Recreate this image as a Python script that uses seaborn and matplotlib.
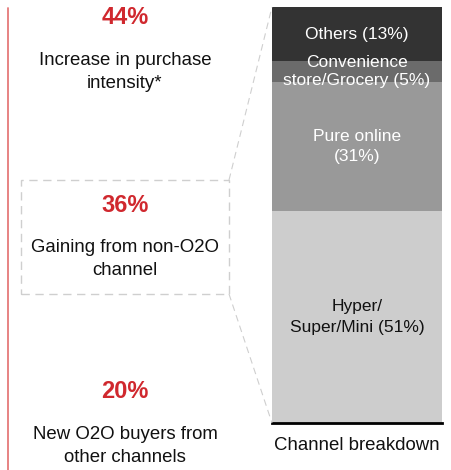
import matplotlib
matplotlib.use("Agg")
import matplotlib.pyplot as plt
import seaborn as sns
import pandas as pd
import numpy as np
from matplotlib.lines import Line2D
from matplotlib.patches import Rectangle

sns.set_theme(style="white")
plt.rcParams['font.family'] = ['Liberation Sans', 'DejaVu Sans']

# ---- data ----
channels = ["Hyper/\nSuper/Mini (51%)", "Pure online\n(31%)", "Convenience\nstore/Grocery (5%)", "Others (13%)"]
shares = [51, 31, 5, 13]
seg_colors = ["#cdcdcd", "#999999", "#6b6b6b", "#333333"]
label_colors = ["#111111", "white", "white", "white"]
bar_category = ["Channel breakdown"]

kpi_values = ["44%", "36%", "20%"]
kpi_texts = ["Increase in purchase\nintensity*", "Gaining from non-O2O\nchannel", "New O2O buyers from\nother channels"]

W, H = 451, 470
fig = plt.figure(figsize=(W / 100, H / 100), dpi=100)

def fx(px):
    return px / W

def fy(py):
    return 1 - py / H

# bar axes
bx0, bx1, by0, by1 = 272, 442, 7, 423
ax = fig.add_axes([fx(bx0), fy(by1), fx(bx1) - fx(bx0), (by1 - by0) / H])

cum = np.cumsum(shares)
# draw cumulative bars from tallest to shortest (stacked look)
for i in range(len(shares) - 1, -1, -1):
    df = pd.DataFrame({"cat": bar_category, "val": [cum[i]]})
    sns.barplot(data=df, x="cat", y="val", color=seg_colors[i], saturation=1,
                width=1.0, ax=ax, edgecolor="none", linewidth=0)

ax.set_xlim(-0.5, 0.5)
ax.set_ylim(0, cum[-1])
ax.set_xlabel("")
ax.set_ylabel("")
ax.set_xticks([])
ax.set_yticks([])
for s in ["top", "right", "left"]:
    ax.spines[s].set_visible(False)
ax.spines["bottom"].set_color("black")
ax.spines["bottom"].set_linewidth(2)

bottoms = np.concatenate([[0], cum[:-1]])
spacings = [1.45, 1.45, 1.3, 1.45]
for lab, b, v, c, ls in zip(channels, bottoms, shares, label_colors, spacings):
    ax.text(0, b + v / 2, lab, ha="center", va="center", color=c,
            fontsize=12.5, linespacing=ls)

fig.text(fx((bx0 + bx1) / 2), fy(445), bar_category[0], ha="center", va="center",
         fontsize=13.4, color="#111111")

# red vertical line
fig.add_artist(Line2D([fx(8), fx(8)], [fy(8), fy(470)], color="#e57a7a", lw=1.3))

# dashed box
dash_col = "#cfcfcf"
bxl, bxr, byt, byb = 21, 229, 180, 294
box = Rectangle((fx(bxl), fy(byb)), fx(bxr) - fx(bxl), (byb - byt) / H,
                fill=False, edgecolor=dash_col, lw=1.0, linestyle=(0, (6, 4)),
                transform=fig.transFigure)
fig.add_artist(box)
fig.add_artist(Line2D([fx(bxr), fx(bx0)], [fy(byt), fy(by0)], color=dash_col, lw=0.8,
                      linestyle=(0, (6, 4))))
fig.add_artist(Line2D([fx(bxr), fx(bx0)], [fy(byb), fy(by1)], color=dash_col, lw=0.8,
                      linestyle=(0, (6, 4))))

# KPI texts
kpi_y = [18, 205, 392]
txt_y = [72, 259, 446]
for v, t, yv, yt in zip(kpi_values, kpi_texts, kpi_y, txt_y):
    fig.text(fx(125), fy(yv), v, ha="center", va="center", color="#d0282e",
             fontsize=17, fontweight="bold")
    fig.text(fx(125), fy(yt), t, ha="center", va="center", color="#111111",
             fontsize=13.4, linespacing=1.42)

fig.savefig("out.png", dpi=100)
